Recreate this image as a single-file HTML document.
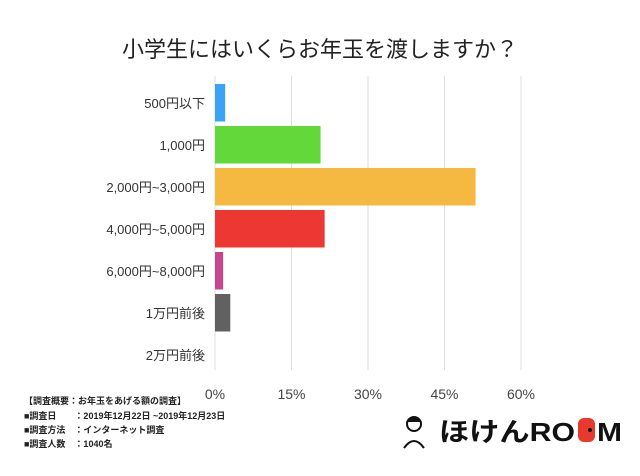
<!DOCTYPE html>
<html><head><meta charset="utf-8"><style>
body{margin:0;background:#fff;width:640px;height:476px;overflow:hidden;font-family:"Liberation Sans","Noto Sans CJK JP",sans-serif;}
svg{display:block}
</style></head><body>
<svg width="640" height="476" id="c">
<text x="320" y="57" text-anchor="middle" font-size="22" fill="#222">小学生にはいくらお年玉を渡しますか？</text>
<g id="grid"></g><g id="bars"></g><g id="labels"></g><g id="ticks"></g>
<g font-size="9" font-weight="bold" fill="#222">
<text x="24" y="404">【調査概要：お年玉をあげる額の調査】</text>
<text x="24" y="419">■調査日　　：2019年12月22日 ~2019年12月23日</text>
<text x="24" y="433">■調査方法　：インターネット調査</text>
<text x="24" y="447">■調査人数　：1040名</text>
</g>
<g>
<circle cx="414" cy="424" r="7" fill="none" stroke="#111" stroke-width="2"/>
<path d="M406 422 q8 -10 16 0" fill="#111"/>
<path d="M404 448 q10 -14 20 0" fill="none" stroke="#111" stroke-width="2"/>
<text x="439" y="441" font-size="26" font-weight="bold" fill="#111" textLength="136" lengthAdjust="spacingAndGlyphs">ほけんRO</text>
<rect x="578" y="418" width="17" height="24" rx="6" fill="#e8392e"/>
<circle cx="590" cy="430" r="2" fill="#111"/>
<text x="597" y="441" font-size="26" font-weight="bold" fill="#111" textLength="25" lengthAdjust="spacingAndGlyphs">M</text>
</g>
</svg>
<script>
const categories=["500円以下","1,000円","2,000円~3,000円","4,000円~5,000円","6,000円~8,000円","1万円前後","2万円前後"];
const values=[2.0,20.7,51.1,21.5,1.6,3.0,0];
const colors=["#3aa3f5","#63d83a","#f5b942","#ec3733","#c5478a","#616161","#999"];
const tickValues=[0,15,30,45,60];
const tickLabels=["0%","15%","30%","45%","60%"];
const ns="http://www.w3.org/2000/svg";
const x0=215,pxPer=(521-215)/60,top0=84,step=42,bh=37.5;
const xs=v=>x0+v*pxPer;
const ys=i=>top0+i*step;
function mk(t,a,p){const e=document.createElementNS(ns,t);for(const k in a)e.setAttribute(k,a[k]);document.getElementById(p).appendChild(e);return e;}
tickValues.forEach((v,i)=>{
 const l=mk("line",{x1:xs(v),x2:xs(v),y1:76,y2:370,stroke:"#ddd","stroke-width":1},"grid");
 
 
 const t=mk("text",{x:xs(v),y:399,"text-anchor":"middle","font-size":14,fill:"#444"},"ticks");
 t.textContent=tickLabels[i];
 
 
});
categories.forEach((c,i)=>{
 const r=mk("rect",{x:x0,y:ys(i),width:Math.max(0,xs(values[i])-x0),height:bh,fill:colors[i]},"bars");
 
 
 const t=mk("text",{x:205,y:ys(i)+bh/2+5,"text-anchor":"end","font-size":13,fill:"#333"},"labels");
 t.textContent=c;
 
 
});
</script>
</body></html>
